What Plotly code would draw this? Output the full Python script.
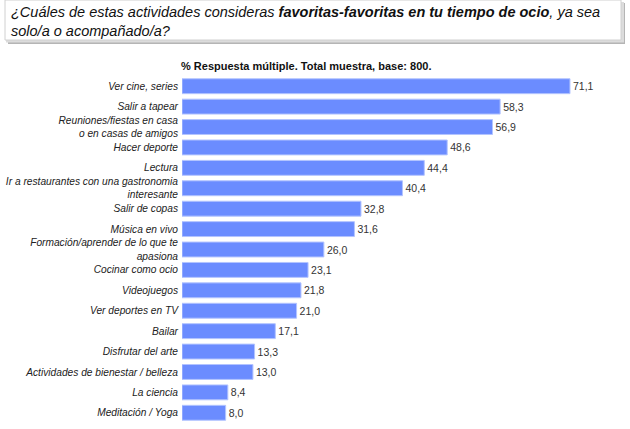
import plotly.graph_objects as go

# ---------- Data ----------

categories = [
    "Ver cine, series",
    "Salir a tapear",
    "Reuniones/fiestas en casa<br>o en casas de amigos",
    "Hacer deporte",
    "Lectura",
    "Ir a restaurantes con una gastronomia<br>interesante",
    "Salir de copas",
    "Música en vivo",
    "Formación/aprender de lo que te<br>apasiona",
    "Cocinar como ocio",
    "Videojuegos",
    "Ver deportes en TV",
    "Bailar",
    "Disfrutar del arte",
    "Actividades de bienestar / belleza",
    "La ciencia",
    "Meditación / Yoga",
]
values = [71.1, 58.3, 56.9, 48.6, 44.4, 40.4, 32.8, 31.6, 26.0, 23.1, 21.8, 21.0, 17.1, 13.3, 13.0, 8.4, 8.0]

title_text = ("<i>¿Cuáles de estas actividades consideras <b>favoritas-favoritas en tu tiempo de ocio</b>, ya sea"
              "<br>solo/a o acompañado/a?</i>")
subtitle_text = "<b>% Respuesta múltiple. Total muestra, base: 800.</b>"

# ---------- Layout helpers ----------

W, H = 630, 429
L, R, T, B = 182, 0, 76, 6
plot_w = W - L - R
plot_h = H - T - B


def px_x(px):
    return (px - L) / plot_w


def px_y(py):
    return (H - B - py) / plot_h


labels = [f"{v:.1f}".replace(".", ",") for v in values]

fig = go.Figure()
fig.add_trace(go.Bar(
    x=values,
    y=categories,
    orientation="h",
    marker=dict(color="#6B8CFF", line=dict(color="#B3C4FF", width=1)),
    text=labels,
    textposition="outside",
    textfont=dict(family="Liberation Sans", size=10.5, color="#333333"),
    cliponaxis=False,
    hoverinfo="skip",
))

shapes = [
    # shadow of the question box
    dict(type="rect", xref="paper", yref="paper",
         x0=px_x(8), x1=px_x(625), y0=px_y(44), y1=px_y(3),
         fillcolor="#b5b5b5", line=dict(width=0), layer="above"),
    dict(type="rect", xref="paper", yref="paper",
         x0=px_x(6), x1=px_x(624), y0=px_y(42.5), y1=px_y(2),
         fillcolor="#dcdcdc", line=dict(width=0), layer="above"),
    dict(type="rect", xref="paper", yref="paper",
         x0=px_x(5), x1=px_x(621), y0=px_y(40), y1=px_y(0),
         fillcolor="white", line=dict(color="#d0d0d0", width=1), layer="above"),
]

annotations = [
    dict(text=title_text, xref="paper", yref="paper",
         x=px_x(9), y=px_y(2), xanchor="left", yanchor="top", align="left",
         showarrow=False, font=dict(family="Liberation Sans", size=14.5, color="#111111")),
    dict(text=subtitle_text, xref="paper", yref="paper",
         x=px_x(306), y=px_y(66), xanchor="center", yanchor="middle",
         showarrow=False, font=dict(family="Liberation Sans", size=11, color="#111111")),
]

fig.update_layout(
    width=W, height=H,
    margin=dict(l=L, r=R, t=T, b=B, autoexpand=False),
    paper_bgcolor="white",
    plot_bgcolor="white",
    showlegend=False,
    bargap=0.27,
    shapes=shapes,
    annotations=annotations,
    xaxis=dict(range=[0, 82.1], visible=False, fixedrange=True),
    yaxis=dict(autorange="reversed", showgrid=False, showline=False, ticks="",
               tickfont=dict(family="Liberation Sans", size=10.2, color="#222222"),
               ticklabelstandoff=3, automargin=False, fixedrange=True),
)

# italic tick labels
fig.update_yaxes(tickvals=categories, ticktext=[f"<i>{c}</i>" for c in categories])

# drop the default body margin so the figure sits at the window's corner
fig.write_html("out.html", config={"displayModeBar": False},
               post_script="document.body.style.margin='0';")
